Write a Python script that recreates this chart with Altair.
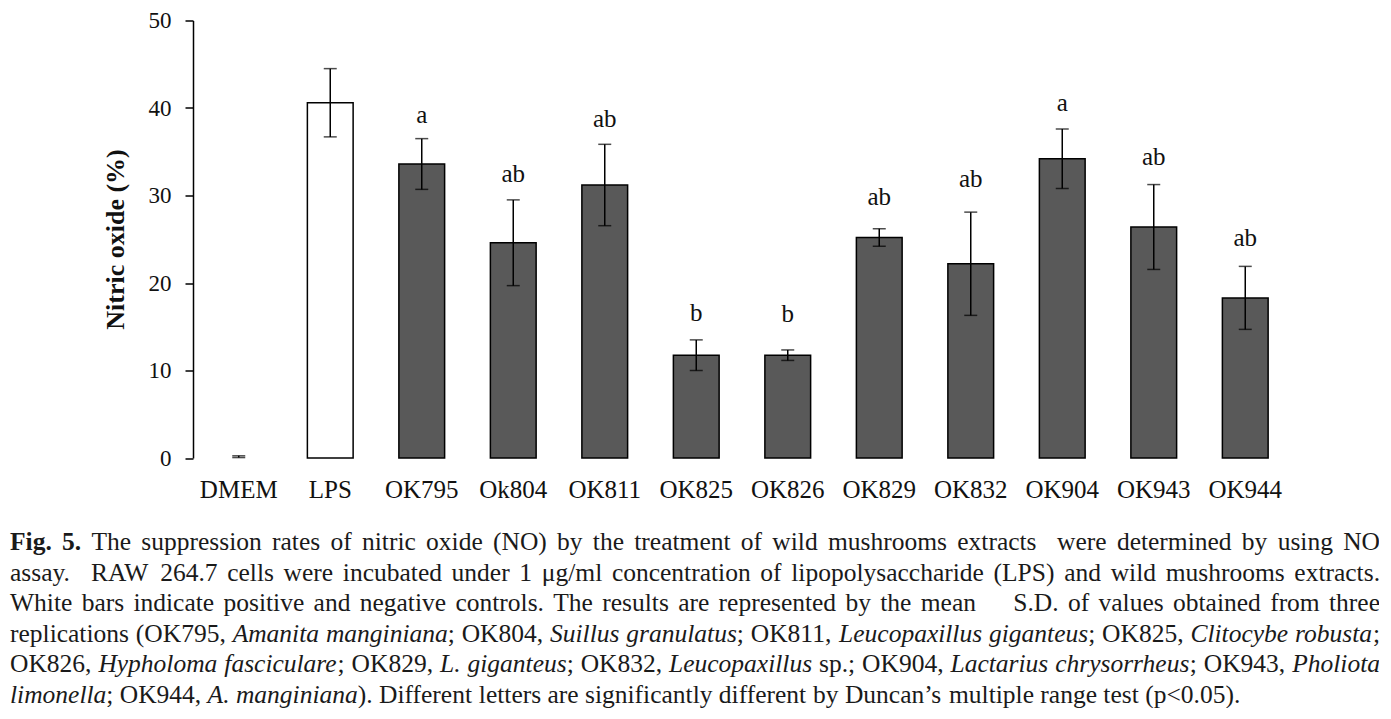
import glob
import os
import struct

import altair as alt
import pandas as pd

# ---- chart values ----
categories = ["DMEM", "LPS", "OK795", "Ok804", "OK811", "OK825", "OK826",
              "OK829", "OK832", "OK904", "OK943", "OK944"]
means = [0.15, 40.6, 33.6, 24.6, 31.2, 11.75, 11.75, 25.2, 22.2, 34.2, 26.4, 18.3]
sds = [0.1, 3.9, 2.9, 4.9, 4.65, 1.75, 0.6, 1.0, 5.9, 3.4, 4.85, 3.6]
letters = ["", "", "a", "ab", "ab", "b", "b", "ab", "ab", "a", "ab", "ab"]
letter_y = [0, 0, 38.3, 31.6, 37.8, 15.7, 15.6, 28.9, 31.0, 39.7, 33.5, 24.2]
groups = ["control", "control"] + ["extract"] * 10
y_ticks = [0, 10, 20, 30, 40, 50]

# ---- figure caption: runs of (text, style) per printed line ----
caption_lines = [
    [("Fig. 5.", "bold"),
     (" The suppression rates of nitric oxide (NO) by the treatment of wild mushrooms extracts  were determined by using NO", "normal")],
    [("assay.  RAW 264.7 cells were incubated under 1 \u03bcg/ml concentration of lipopolysaccharide (LPS) and wild mushrooms extracts.", "normal")],
    [("White bars indicate positive and negative controls. The results are represented by the mean    S.D. of values obtained from three", "normal")],
    [("replications (OK795, ", "normal"), ("Amanita manginiana", "italic"),
     ("; OK804, ", "normal"), ("Suillus granulatus", "italic"),
     ("; OK811, ", "normal"), ("Leucopaxillus giganteus", "italic"),
     ("; OK825, ", "normal"), ("Clitocybe robusta", "italic"), (";", "normal")],
    [("OK826, ", "normal"), ("Hypholoma fasciculare", "italic"),
     ("; OK829, ", "normal"), ("L. giganteus", "italic"),
     ("; OK832, ", "normal"), ("Leucopaxillus", "italic"),
     (" sp.; OK904, ", "normal"), ("Lactarius chrysorrheus", "italic"),
     ("; OK943, ", "normal"), ("Pholiota", "italic")],
    [("limonella", "italic"), ("; OK944, ", "normal"), ("A. manginiana", "italic"),
     ("). Different letters are significantly different by Duncan\u2019s multiple range test (p<0.05).", "normal")],
]
caption_justified = [True, True, True, True, True, False]

SERIF = "Liberation Serif"

# ---------- font metrics (for justifying the caption like the original) ----------
def _find_font(name):
    for root in ["/usr/share/fonts", "/usr/local/share/fonts",
                 os.path.expanduser("~/.fonts"), os.path.expanduser("~/.local/share/fonts")]:
        hits = glob.glob(os.path.join(root, "**", name), recursive=True)
        if hits:
            return hits[0]
    return None


def _load_width_fn(path):
    data = open(path, "rb").read()
    num = struct.unpack(">H", data[4:6])[0]
    tables = {}
    for i in range(num):
        tag, _cs, off, _ln = struct.unpack(">4sIII", data[12 + 16 * i:28 + 16 * i])
        tables[tag.decode("latin1")] = off
    upem = struct.unpack(">H", data[tables["head"] + 18:tables["head"] + 20])[0]
    nhm = struct.unpack(">H", data[tables["hhea"] + 34:tables["hhea"] + 36])[0]
    hm = tables["hmtx"]
    adv = [struct.unpack(">H", data[hm + 4 * i:hm + 4 * i + 2])[0] for i in range(nhm)]
    cm = tables["cmap"]
    nsub = struct.unpack(">H", data[cm + 2:cm + 4])[0]
    sub = None
    for i in range(nsub):
        pid, eid, off = struct.unpack(">HHI", data[cm + 4 + 8 * i:cm + 12 + 8 * i])
        fmt = struct.unpack(">H", data[cm + off:cm + off + 2])[0]
        if fmt == 4 and (sub is None or (pid == 3 and eid == 1)):
            sub = cm + off
    segx2 = struct.unpack(">H", data[sub + 6:sub + 8])[0]
    seg = segx2 // 2
    ends = struct.unpack(">%dH" % seg, data[sub + 14:sub + 14 + segx2])
    so = sub + 16 + segx2
    starts = struct.unpack(">%dH" % seg, data[so:so + segx2])
    do = so + segx2
    deltas = struct.unpack(">%dh" % seg, data[do:do + segx2])
    ro = do + segx2
    ros = struct.unpack(">%dH" % seg, data[ro:ro + segx2])

    def gid(ch):
        code = ord(ch)
        for i in range(seg):
            if starts[i] <= code <= ends[i]:
                if ros[i] == 0:
                    return (code + deltas[i]) & 0xFFFF
                addr = ro + 2 * i + ros[i] + 2 * (code - starts[i])
                g = struct.unpack(">H", data[addr:addr + 2])[0]
                return ((g + deltas[i]) & 0xFFFF) if g else 0
        return 0

    def width(text, size):
        tot = 0
        for ch in text:
            g = gid(ch)
            tot += adv[g] if g < nhm else adv[-1]
        return tot * size / upem

    return width


def _fallback(text, size):
    return 0.45 * size * len(text)


width_fns = {}
for style, fname in [("normal", "LiberationSerif-Regular.ttf"),
                     ("italic", "LiberationSerif-Italic.ttf"),
                     ("bold", "LiberationSerif-Bold.ttf")]:
    p = _find_font(fname)
    try:
        width_fns[style] = _load_width_fn(p) if p else _fallback
    except Exception:
        width_fns[style] = _fallback

# ---------- caption layout (page pixels) ----------
PLOT_LEFT, PLOT_TOP = 193, 20.5
PLOT_W, PLOT_H = 1098, 437.5
CAP_LEFT, CAP_RIGHT = 10, 1380
CAP_SIZE = 25.5
line_baselines = [550, 580.6, 611.2, 641.8, 672.4, 703]

rows = []
for li, runs in enumerate(caption_lines):
    words = [[]]
    for text, style in runs:
        parts = text.split(" ")
        for k, part in enumerate(parts):
            if k > 0:
                words.append([])
            if part:
                words[-1].append((part, style))
    size = CAP_SIZE
    avail = CAP_RIGHT - CAP_LEFT

    def wlen(word, s):
        return sum(width_fns[st](t, s) for t, st in word)

    space = width_fns["normal"](" ", size)
    natural = sum(wlen(w, size) for w in words) + space * (len(words) - 1)
    if natural > avail:
        size = size * avail / natural
        space = width_fns["normal"](" ", size)
    total_words = sum(wlen(w, size) for w in words)
    if caption_justified[li] and len(words) > 1:
        gap = (avail - total_words) / (len(words) - 1)
    else:
        gap = space
    x = CAP_LEFT
    for w in words:
        for t, st in w:
            rows.append({"px": x - PLOT_LEFT, "py": line_baselines[li] - PLOT_TOP,
                         "t": t, "style": st, "size": size})
            x += width_fns[st](t, size)
        x += gap

cap_df = pd.DataFrame(rows)

# ---------- chart ----------
df = pd.DataFrame({
    "cat": categories, "mean": means, "sd": sds,
    "letter": letters, "ly": letter_y, "group": groups,
})
df["hi"] = df["mean"] + df["sd"]
df["lo"] = (df["mean"] - df["sd"]).clip(lower=0)

x_enc = alt.X("cat:N", sort=categories,
              scale=alt.Scale(paddingInner=0.5, paddingOuter=0.25),
              axis=alt.Axis(title=None, labelAngle=0, domain=False, ticks=False,
                            labelPadding=19, labelFontSize=25, labelFont=SERIF,
                            labelColor="#111111"))
y_scale = alt.Scale(domain=[0, 50], nice=False)

base = alt.Chart(df)

bars = base.mark_bar(stroke="black").encode(
    x=x_enc,
    y=alt.Y("mean:Q", scale=y_scale,
            axis=alt.Axis(values=y_ticks, grid=False, domainColor="black",
                          domainWidth=1.5, tickColor="black", tickWidth=1.5,
                          tickSize=8, labelPadding=14, labelFontSize=23,
                          labelFont=SERIF, labelColor="#111111",
                          title="Nitric oxide (%)", titleFont=SERIF,
                          titleFontSize=26, titleFontWeight="bold",
                          titleColor="#111111", titleAngle=270,
                          titleAlign="center", titleBaseline="middle",
                          titleX=-78, titleY=218.5)),
    color=alt.Color("group:N", scale=alt.Scale(domain=["control", "extract"],
                                               range=["#ffffff", "#595959"]),
                    legend=None),
    strokeWidth=alt.condition("datum.mean > 1", alt.value(1.5), alt.value(0)),
)

err = base.mark_rule(color="black", strokeWidth=1.5).encode(
    x=alt.X("cat:N", sort=categories), y=alt.Y("lo:Q", scale=y_scale), y2="hi:Q")
cap_hi = base.mark_tick(color="black", thickness=1.5, size=13).encode(
    x=alt.X("cat:N", sort=categories), y=alt.Y("hi:Q", scale=y_scale))
cap_lo = base.mark_tick(color="black", thickness=1.5, size=13).encode(
    x=alt.X("cat:N", sort=categories), y=alt.Y("lo:Q", scale=y_scale))

labels = base.transform_filter("datum.letter != ''").mark_text(
    baseline="alphabetic", fontSize=25, font=SERIF, color="#111111").encode(
    x=alt.X("cat:N", sort=categories), y=alt.Y("ly:Q", scale=y_scale),
    text="letter:N")

main = alt.layer(bars, err, cap_hi, cap_lo, labels)

cap_x = alt.X("px:Q", scale=alt.Scale(domain=[0, PLOT_W], nice=False, zero=False), axis=None)
cap_y = alt.Y("py:Q", scale=alt.Scale(domain=[0, PLOT_H], nice=False, zero=False, reverse=True),
              axis=None)
cap_layers = []
for style, extra in [("normal", {}), ("italic", {"fontStyle": "italic"}),
                     ("bold", {"fontWeight": "bold"})]:
    cap_layers.append(
        alt.Chart(cap_df).transform_filter(alt.datum.style == style).mark_text(
            font=SERIF, align="left", baseline="alphabetic", color="#1a1a1a", **extra
        ).encode(x=cap_x, y=cap_y, text="t:N",
                 size=alt.Size("size:Q", scale=None, legend=None)))
caption = alt.layer(*cap_layers)

chart = alt.layer(main, caption).resolve_scale(
    x="independent", y="independent", size="independent"
).properties(
    width=PLOT_W, height=PLOT_H,
    autosize="none",
    padding={"left": 185, "top": 12.5, "right": 88, "bottom": 250},
).configure_view(stroke=None)

chart.save("out.html", embed_options={"renderer": "svg", "actions": False})
